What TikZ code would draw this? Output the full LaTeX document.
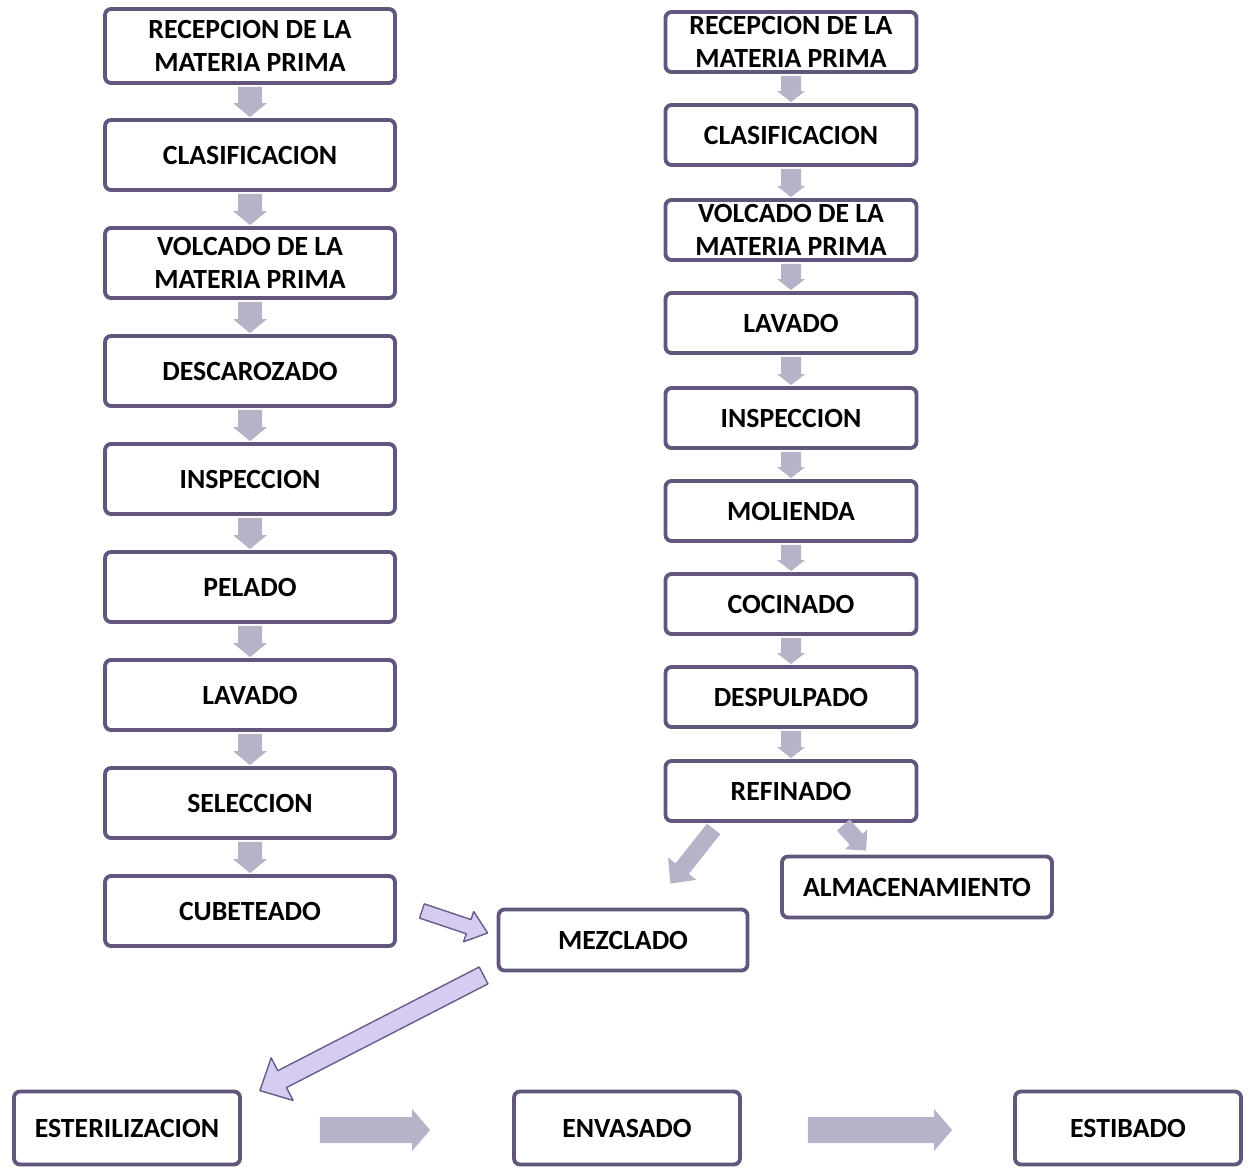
\documentclass[tikz,border=0pt]{standalone}
\usepackage{fontspec}
\setmainfont{Carlito}
\usetikzlibrary{calc,backgrounds}
\definecolor{boxline}{RGB}{98,86,124}
\definecolor{arrgray}{RGB}{182,178,200}
\definecolor{arrfill}{RGB}{214,204,242}
\definecolor{arrline}{RGB}{104,92,136}
\newcommand\blockarrow[6]{%
  \path #2 coordinate (ba-s) #3 coordinate (ba-e);
  \path ($(ba-e)!#6!(ba-s)$) coordinate (ba-p);
  \draw[#1] ($(ba-s)!#4!90:(ba-e)$) -- ($(ba-p)!#4!90:(ba-e)$) -- ($(ba-p)!#5!90:(ba-e)$) -- (ba-e)
    -- ($(ba-p)!#5!-90:(ba-e)$) -- ($(ba-p)!#4!-90:(ba-e)$) -- ($(ba-s)!#4!-90:(ba-e)$) -- cycle;}
\tikzset{
  procbox/.style={draw=boxline, line width=2.2pt, rounded corners=0.12cm, fill=white,
    align=center, inner sep=1pt, font=\fontsize{15.8}{18.5}\selectfont\bfseries},
  lbox/.style={procbox, minimum width=5.80cm, minimum height=1.40cm},
  rbox/.style={procbox, minimum width=5.02cm, minimum height=1.20cm},
  grayarrow/.style={fill=arrgray, draw=none},
  linearrow/.style={fill=arrfill, draw=arrline, line width=0.8pt, line join=round},
}
\begin{document}
\begin{tikzpicture}[x=0.02cm,y=-0.02cm]
\useasboundingbox (0,0) rectangle (1251,1169);
% left column
\node[lbox, minimum height=1.48cm] (l1) at (250,46) {RECEPCION DE LA\\MATERIA PRIMA};
\node[lbox] (l2) at (250,155) {CLASIFICACION};
\node[lbox] (l3) at (250,263) {VOLCADO DE LA\\MATERIA PRIMA};
\node[lbox] (l4) at (250,371) {DESCAROZADO};
\node[lbox] (l5) at (250,479) {INSPECCION};
\node[lbox] (l6) at (250,587) {PELADO};
\node[lbox] (l7) at (250,695) {LAVADO};
\node[lbox] (l8) at (250,803) {SELECCION};
\node[lbox] (l9) at (250,911) {CUBETEADO};
% right column
\node[rbox] (r1) at (791,42) {RECEPCION DE LA\\MATERIA PRIMA};
\node[rbox] (r2) at (791,135) {CLASIFICACION};
\node[rbox] (r3) at (791,230) {VOLCADO DE LA\\MATERIA PRIMA};
\node[rbox] (r4) at (791,323) {LAVADO};
\node[rbox] (r5) at (791,418) {INSPECCION};
\node[rbox] (r6) at (791,511) {MOLIENDA};
\node[rbox] (r7) at (791,604) {COCINADO};
\node[rbox] (r8) at (791,697) {DESPULPADO};
\node[rbox] (r9) at (791,791) {REFINADO};
\node[procbox, minimum width=5.40cm, minimum height=1.22cm] (alm) at (917,887) {ALMACENAMIENTO};
\node[procbox, minimum width=4.98cm, minimum height=1.22cm] (mez) at (623,940) {MEZCLADO};
% bottom row
\node[procbox, minimum width=4.52cm, minimum height=1.46cm] (est) at (127,1128) {ESTERILIZACION};
\node[procbox, minimum width=4.52cm, minimum height=1.46cm] (env) at (627,1128) {ENVASADO};
\node[procbox, minimum width=4.52cm, minimum height=1.46cm] (sti) at (1128,1128) {ESTIBADO};
\begin{scope}[on background layer]
  \foreach \a/\b in {l1/l2,l2/l3,l3/l4,l4/l5,l5/l6,l6/l7,l7/l8,l8/l9}{
    \blockarrow{grayarrow}{($(\a.south)+(0,2)$)}{($(\b.north)+(0,-1)$)}{0.24cm}{0.34cm}{0.28cm}
  }
  \foreach \a/\b in {r1/r2,r2/r3,r3/r4,r4/r5,r5/r6,r6/r7,r7/r8,r8/r9}{
    \blockarrow{grayarrow}{($(\a.south)+(0,2)$)}{($(\b.north)+(0,-1)$)}{0.20cm}{0.28cm}{0.22cm}
  }
\end{scope}
% big arrows
\blockarrow{grayarrow}{($(r9.south west)+(50,6)$)}{($(mez.north east)+(-79,-24)$)}{0.17cm}{0.36cm}{0.38cm}
\blockarrow{grayarrow}{($(r9.south east)+(-75,2)$)}{($(alm.north west)+(86,-4)$)}{0.17cm}{0.30cm}{0.30cm}
\blockarrow{linearrow}{($(l9.east)+(25,0)$)}{($(mez.west)+(-9,-7)$)}{0.15cm}{0.32cm}{0.40cm}
\blockarrow{linearrow}{($(mez.south west)+(-13,3)$)}{($(est.north east)+(18,1)$)}{0.19cm}{0.48cm}{0.50cm}
\blockarrow{grayarrow}{($(est.east)+(78,2)$)}{($(env.west)+(-82,2)$)}{0.26cm}{0.42cm}{0.36cm}
\blockarrow{grayarrow}{($(env.east)+(66,2)$)}{($(sti.west)+(-61,2)$)}{0.26cm}{0.42cm}{0.36cm}
\end{tikzpicture}
\end{document}
